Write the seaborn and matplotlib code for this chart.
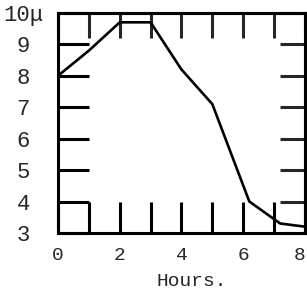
import matplotlib
matplotlib.use('Agg')
import matplotlib.pyplot as plt
import matplotlib.transforms as mtransforms
import seaborn as sns
import pandas as pd

# values
hours = [0, 1, 2, 3, 4, 5, 6.2, 7.2, 8]
size = [8.0, 8.8, 9.7, 9.7, 8.2, 7.1, 4.0, 3.3, 3.2]
y_ticks = [3, 4, 5, 6, 7, 8, 9, 10]
y_labels = ['3', '4', '5', '6', '7', '8', '9', '10\u03bc']
x_ticks = [0, 1, 2, 3, 4, 5, 6, 7, 8]
x_labels = ['0', '', '2', '', '4', '', '6', '', '8']

sns.set_style('ticks')
plt.rcParams['font.family'] = ['Liberation Mono', 'DejaVu Sans Mono']

df = pd.DataFrame({'hours': hours, 'size': size})

fig = plt.figure(figsize=(3.07, 2.93), dpi=100)
ax = fig.add_axes([0.189, 0.205, 0.804, 0.751])

sns.lineplot(data=df, x='hours', y='size', color='black', linewidth=1.9, ax=ax)

ax.set_xlim(0, 8)
ax.set_ylim(3, 10)
ax.set_xticks(x_ticks)
ax.set_xticklabels(x_labels, fontsize=14)
ax.set_yticks(y_ticks)
ax.set_yticklabels(y_labels, fontsize=16, ha='center')
ax.tick_params(direction='in', length=22, width=2.2, color='black')
ax.tick_params(axis='x', pad=10)
ax.tick_params(axis='y', pad=25)
ax.set_xlabel('Hours.', fontsize=14)
ax.xaxis.set_label_coords(0.54, -0.18)
ax.set_ylabel('')

# the last hour label sits right at the page edge, nudge it in a bit
last = ax.get_xticklabels()[-1]
last.set_transform(last.get_transform() +
                   mtransforms.ScaledTranslation(-5 / 100, 0, fig.dpi_scale_trans))

for s in ax.spines.values():
    s.set_visible(True)
    s.set_linewidth(2.2)
    s.set_color('black')

# shorter ticks on the top and right edges
top = ax.secondary_xaxis('top')
top.set_xticks(x_ticks)
top.set_xticklabels([])
top.tick_params(direction='in', length=18, width=2.2)
top.spines['top'].set_linewidth(2.2)

right = ax.secondary_yaxis('right')
right.set_yticks(y_ticks)
right.set_yticklabels([])
right.tick_params(direction='in', length=18, width=2.2)
right.spines['right'].set_linewidth(2.2)

fig.savefig('out.png', dpi=100)
